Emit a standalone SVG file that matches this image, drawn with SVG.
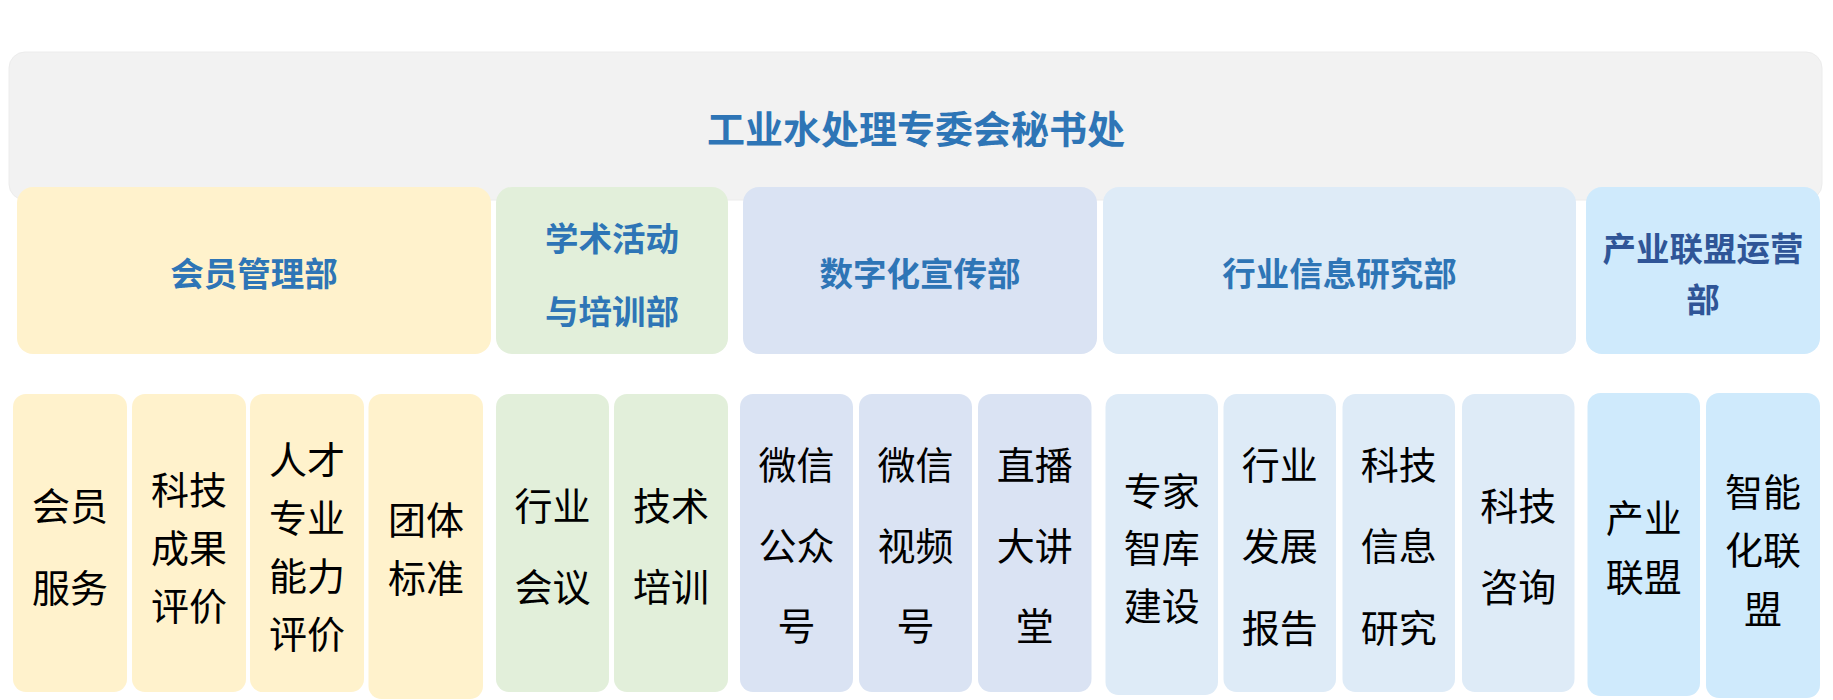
<svg xmlns="http://www.w3.org/2000/svg" width="1833" height="700" viewBox="0 0 1833 700">
<style>
text{font-family:"Noto Sans CJK SC","Microsoft YaHei",sans-serif;text-anchor:middle;dominant-baseline:central}
.t0{font-size:38px;font-weight:bold;fill:#2e75b6}
.t1{font-size:33.5px;font-weight:bold;fill:#2e75b6}
.t1d{font-size:33.5px;font-weight:bold;fill:#2f5597}
.t2{font-size:38px;fill:#000}
.y{fill:#fff2cc}.g{fill:#e2efda}.b{fill:#dae3f3}.l{fill:#deebf7}.s{fill:#cfeafc}
</style>
<rect width="1833" height="700" fill="#ffffff"/>
<g id="secretariat">
<rect x="9" y="52" width="1813" height="148" rx="16" fill="#f2f2f2" stroke="#ececec" stroke-width="1"/>
<text class="t0" x="916" y="126">工业水处理专委会秘书处</text>
</g>
<g id="connectors"></g>
<g id="dept-member">
<rect class="y" x="17" y="187" width="474" height="167" rx="16"/>
<text class="t1" x="254" y="271">会员管理部</text>
</g>
<g id="dept-academic">
<rect class="g" x="496" y="187" width="232" height="167" rx="16"/>
<text class="t1" x="612" y="236">学术活动</text>
<text class="t1" x="612" y="309">与培训部</text>
</g>
<g id="dept-digital">
<rect class="b" x="743" y="187" width="354" height="167" rx="16"/>
<text class="t1" x="920" y="271">数字化宣传部</text>
</g>
<g id="dept-research">
<rect class="l" x="1103" y="187" width="473" height="167" rx="16"/>
<text class="t1" x="1339.5" y="271">行业信息研究部</text>
</g>
<g id="dept-alliance">
<rect class="s" x="1586" y="187" width="234" height="167" rx="16"/>
<text class="t1d" x="1703" y="246">产业联盟运营</text>
<text class="t1d" x="1703" y="297">部</text>
</g>
<g id="a1">
<rect class="y" x="13" y="394" width="114" height="298" rx="13"/>
<text class="t2" x="70" y="503">会员</text>
<text class="t2" x="70" y="585">服务</text>
</g>
<g id="a2">
<rect class="y" x="132" y="394" width="114" height="298" rx="13"/>
<text class="t2" x="189" y="487">科技</text>
<text class="t2" x="189" y="545">成果</text>
<text class="t2" x="189" y="603">评价</text>
</g>
<g id="a3">
<rect class="y" x="250" y="394" width="114" height="298" rx="13"/>
<text class="t2" x="307" y="457">人才</text>
<text class="t2" x="307" y="515">专业</text>
<text class="t2" x="307" y="573">能力</text>
<text class="t2" x="307" y="631">评价</text>
</g>
<g id="a4">
<rect class="y" x="368.5" y="394" width="114.5" height="305" rx="13"/>
<text class="t2" x="426" y="517">团体</text>
<text class="t2" x="426" y="575">标准</text>
</g>
<g id="b1">
<rect class="g" x="496" y="394" width="113" height="298" rx="13"/>
<text class="t2" x="552.5" y="503">行业</text>
<text class="t2" x="552.5" y="584">会议</text>
</g>
<g id="b2">
<rect class="g" x="614" y="394" width="114" height="298" rx="13"/>
<text class="t2" x="671" y="503">技术</text>
<text class="t2" x="671" y="584">培训</text>
</g>
<g id="c1">
<rect class="b" x="740" y="394" width="113" height="298" rx="13"/>
<text class="t2" x="796.5" y="462">微信</text>
<text class="t2" x="796.5" y="543.5">公众</text>
<text class="t2" x="796.5" y="623">号</text>
</g>
<g id="c2">
<rect class="b" x="859" y="394" width="113" height="298" rx="13"/>
<text class="t2" x="915.5" y="462">微信</text>
<text class="t2" x="915.5" y="543.5">视频</text>
<text class="t2" x="915.5" y="623">号</text>
</g>
<g id="c3">
<rect class="b" x="978" y="394" width="113.5" height="298" rx="13"/>
<text class="t2" x="1034.7" y="462">直播</text>
<text class="t2" x="1034.7" y="543.5">大讲</text>
<text class="t2" x="1034.7" y="623">堂</text>
</g>
<g id="d1">
<rect class="l" x="1105.5" y="394" width="112.5" height="301" rx="13"/>
<text class="t2" x="1161.8" y="488">专家</text>
<text class="t2" x="1161.8" y="545">智库</text>
<text class="t2" x="1161.8" y="603">建设</text>
</g>
<g id="d2">
<rect class="l" x="1223.5" y="394" width="112.5" height="298" rx="13"/>
<text class="t2" x="1279.8" y="462">行业</text>
<text class="t2" x="1279.8" y="543.5">发展</text>
<text class="t2" x="1279.8" y="625">报告</text>
</g>
<g id="d3">
<rect class="l" x="1342.5" y="394" width="112.5" height="298" rx="13"/>
<text class="t2" x="1398.8" y="462">科技</text>
<text class="t2" x="1398.8" y="543.5">信息</text>
<text class="t2" x="1398.8" y="625">研究</text>
</g>
<g id="d4">
<rect class="l" x="1462" y="394" width="112.5" height="298" rx="13"/>
<text class="t2" x="1518.2" y="503">科技</text>
<text class="t2" x="1518.2" y="584">咨询</text>
</g>
<g id="e1">
<rect class="s" x="1587.5" y="393" width="112.5" height="303" rx="13"/>
<text class="t2" x="1643.8" y="515">产业</text>
<text class="t2" x="1643.8" y="574">联盟</text>
</g>
<g id="e2">
<rect class="s" x="1706" y="393" width="114" height="305" rx="13"/>
<text class="t2" x="1763" y="489.5">智能</text>
<text class="t2" x="1763" y="547">化联</text>
<text class="t2" x="1763" y="606">盟</text>
</g>
</svg>
